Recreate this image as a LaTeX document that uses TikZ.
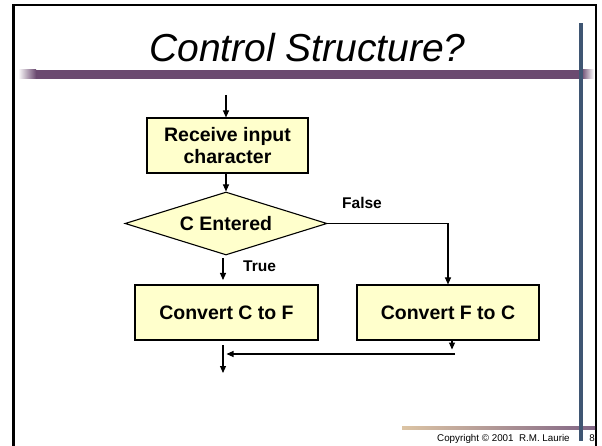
\documentclass[tikz,border=0pt]{standalone}
\usepackage{fontspec}
\setmainfont{Liberation Sans}
\usetikzlibrary{arrows.meta,shapes.geometric}
\definecolor{boxfill}{HTML}{FFFFCC}
\definecolor{barpurple}{HTML}{6B4A70}
\definecolor{barslate}{HTML}{3F5673}
\definecolor{linetan}{HTML}{DCC4A4}
\tikzset{
  flow/.style={line width=1.1pt,-{Triangle[length=7pt,width=6pt]}},
  plain/.style={line width=1.1pt},
  procbox/.style={draw=black,line width=1.1pt,fill=boxfill,inner sep=0pt,
    font=\fontsize{19.5}{22}\selectfont\bfseries,align=center},
  decision/.style={draw=black,line width=1.1pt,fill=boxfill,shape=diamond,
    inner sep=0pt,aspect=3.2,minimum width=202pt,minimum height=63pt,
    font=\fontsize{19.5}{22}\selectfont\bfseries},
  branchlabel/.style={inner sep=0pt,anchor=base west,
    font=\fontsize{15.5}{18}\selectfont\bfseries},
}
\begin{document}
\begin{tikzpicture}[x=1pt,y=-1pt]
\useasboundingbox (0,0) rectangle (602,446);
\fill[white] (0,0) rectangle (602,446);

% slide frame
\draw[line width=2.6pt] (13.5,447) -- (13.5,5);
\draw[line width=1.5pt] (12.2,5) -- (596,5) -- (596,447);

% title and rule under it
\node[inner sep=0pt,anchor=base,font=\fontsize{39}{44}\selectfont\itshape]
  (title) at (307.5,62) {Control Structure?};
\shade[left color=white,right color=barpurple] (18,70) rectangle (36,79);
\fill[barpurple] (35.5,70) rectangle (582,79);
\shade[left color=barpurple,right color=white] (581.5,70) rectangle (594,79);

% footer rule
\shade[left color=linetan,right color=barpurple!85] (402,426.5) rectangle (595,429.5);

% vertical side bar
\fill[barslate] (579,23) rectangle (583,441);

% footer text
\node[inner sep=0pt,anchor=base west,font=\fontsize{9.8}{11}\selectfont]
  (copy) at (437,441) {Copyright \textcopyright{} 2001\ \ R.M. Laurie};
\node[inner sep=0pt,anchor=base,font=\fontsize{9.8}{11}\selectfont]
  (page) at (592,441) {8};

% flowchart
\node[procbox,minimum width=161pt,minimum height=55pt] (recv) at (227.5,145.5)
  {Receive input\\character};
\node[decision] (dec) at (226,223.5) {C Entered};
\node[procbox,minimum width=183pt,minimum height=55pt] (ctof) at (226.5,312.5)
  {Convert C to F};
\node[procbox,minimum width=182pt,minimum height=55pt] (ftoc) at (448,312.5)
  {Convert F to C};

\coordinate (in) at (226,95);
\draw[flow] (in) -- (in |- recv.north);
\draw[flow] (recv.south -| 226,0) -- (dec.north);

\draw[flow] (dec.east) -| (ftoc.north);
\node[branchlabel] (falselbl) at (342,209) {False};

\coordinate (t1) at (223,258);
\coordinate (t2) at (223,280);
\draw[flow] (t1) -- (t2);
\node[branchlabel] (truelbl) at (243,272) {True};

\coordinate (f1) at (452,340);
\coordinate (f2) at (452,349.5);
\draw[flow] (f1) -- (f2);
\coordinate (m1) at (455,354);
\coordinate (m2) at (226.5,354);
\draw[flow] (m1) -- (m2);
\coordinate (o1) at (223,345);
\coordinate (o2) at (223,373);
\draw[flow] (o1) -- (o2);
\end{tikzpicture}
\end{document}
